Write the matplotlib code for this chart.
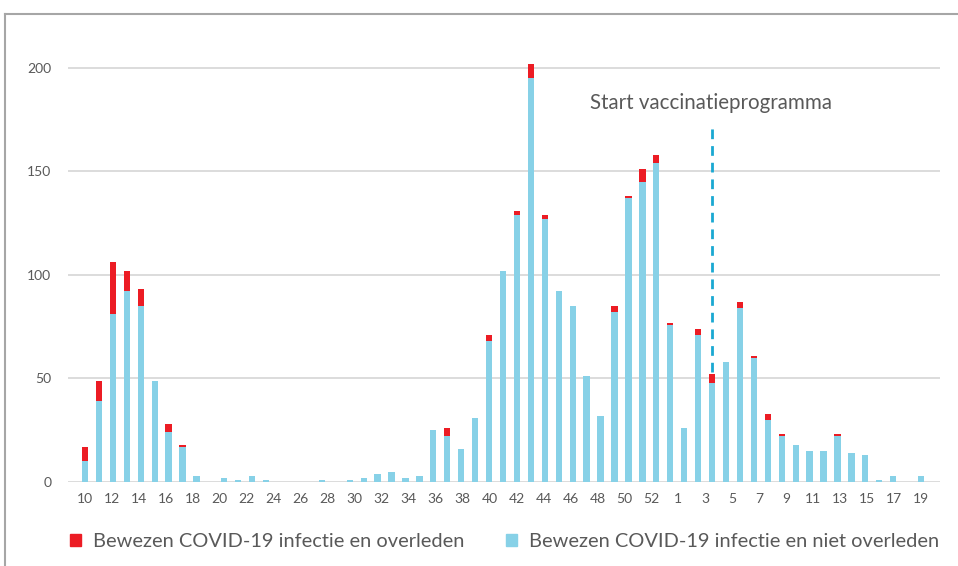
import numpy as np
import matplotlib
matplotlib.use("Agg")
import matplotlib.pyplot as plt
from matplotlib.patches import Patch
from matplotlib.lines import Line2D

plt.rcParams['font.family'] = ['Lato', 'DejaVu Sans']

# weekly values, left to right (2020 wk 10 -> 2021)
niet_overleden = [10, 39, 81, 92, 85, 49, 24, 17, 3, 0,
                  2, 1, 3, 1, 0, 0, 0, 1, 0, 1,
                  2, 4, 5, 2, 3, 25, 22, 16, 31, 68,
                  102, 129, 195, 127, 92, 85, 51, 32, 82, 137,
                  145, 154, 76, 26, 71, 48, 58, 84, 60, 30,
                  22, 18, 15, 15, 22, 14, 13, 1, 3, 0, 3]
overleden = [7, 10, 25, 10, 8, 0, 4, 1, 0, 0,
             0, 0, 0, 0, 0, 0, 0, 0, 0, 0,
             0, 0, 0, 0, 0, 0, 4, 0, 0, 3,
             0, 2, 7, 2, 0, 0, 0, 0, 3, 1,
             6, 4, 1, 0, 3, 4, 0, 3, 1, 3,
             1, 0, 0, 0, 1, 0, 0, 0, 0, 0, 0]
week_labels = [str(w) for w in range(10, 53, 2)] + [str(w) for w in range(1, 20, 2)]
vacc_bar = 45
vacc_text = "Start vaccinatieprogramma"

blue = "#87D1E7"
red = "#EC1C24"
grey_txt = "#595959"

fig = plt.figure(figsize=(9.58, 5.66), dpi=100)
ax = fig.add_axes([68 / 958, 84 / 566, 872 / 958, 435 / 566])

x = np.arange(len(niet_overleden))
ax.bar(x, niet_overleden, width=0.45, color=blue, linewidth=0, zorder=3)
ax.bar(x, overleden, bottom=niet_overleden, width=0.45, color=red, linewidth=0, zorder=3)

# vaccinatie lijn
ax.plot([vacc_bar, vacc_bar], [53, 171], color="#1AA8D2", lw=2, dashes=(3.5, 2.5), zorder=4)
ax.text(vacc_bar - 8.75, 183, vacc_text, fontsize=14.8, color=grey_txt, va="center", ha="left")

ax.set_xlim(-1.22, 61.36)
ax.set_ylim(0, 210)
ax.set_yticks([0, 50, 100, 150, 200])
ax.set_xticks(np.linspace(0, len(x) - 1, len(week_labels)))
ax.set_xticklabels(week_labels)
ax.tick_params(axis="both", length=0, labelsize=10, labelcolor=grey_txt)
ax.tick_params(axis="y", pad=12)
ax.tick_params(axis="x", pad=8)
ax.grid(axis="y", color="#D9D9D9", lw=1.3, zorder=0)
for s in ax.spines.values():
    s.set_visible(False)

handles = [Patch(color=red, label="Bewezen COVID-19 infectie en overleden"),
           Patch(color=blue, label="Bewezen COVID-19 infectie en niet overleden")]
fig.legend(handles=handles, loc="lower left", bbox_to_anchor=(0.054, -0.004), ncol=2,
           frameon=False, fontsize=14.4, handlelength=0.55, handleheight=0.55,
           handletextpad=0.6, columnspacing=2.1, labelcolor=grey_txt)

# kader
fig.add_artist(Line2D([5 / 958, 1], [1 - 14 / 566, 1 - 14 / 566], color="#A6A6A6", lw=1.5))
fig.add_artist(Line2D([5 / 958, 5 / 958], [0, 1 - 14 / 566], color="#A6A6A6", lw=1.5))

fig.savefig("out.png", dpi=100)
